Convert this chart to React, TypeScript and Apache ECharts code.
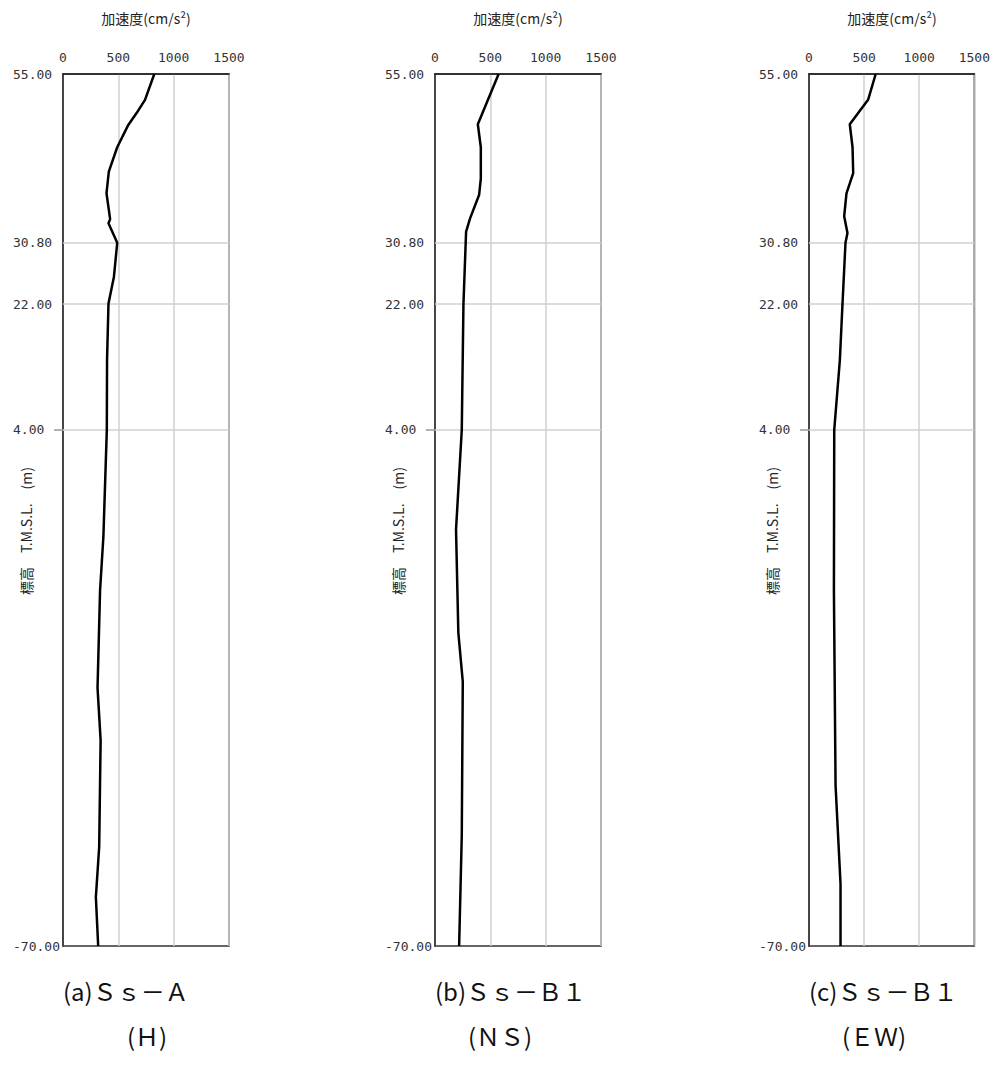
import React, { useEffect, useRef } from "react";
import * as echarts from "echarts";

// Tick / label values
const xMin = 0;
const xMax = 1500;
const xInterval = 500;
const yMin = -70;
const yMax = 55;
const yLabelValues = [55, 30.8, 22, 4, -70];
const yGridValues = [30.8, 22, 4];
const yTickValues = [4];

// (a) Ss-A (H)
const elevA = [55, 51.3, 49.4, 47.7, 44.5, 41, 37.9, 34.2, 33.6, 30.8, 25.9, 22.1, 14, 4, -11.3, -19, -33, -40.5, -55.8, -63, -70];
const accA = [825, 741, 665, 590, 490, 414, 393, 426, 411, 490, 460, 411, 398, 396, 365, 335, 312, 340, 327, 297, 318];

// (b) Ss-B1 (NS)
const elevB = [55, 47.8, 44.5, 40, 37.7, 34.3, 32.4, 22, 4, -10.3, -25.1, -32.1, -54.1, -70];
const accB = [575, 387, 414, 414, 399, 317, 281, 257, 242, 190, 211, 251, 242, 218];

// (c) Ss-B1 (EW)
const elevC = [55, 51.3, 47.8, 44.5, 40.8, 37.9, 34.6, 32.2, 30.8, 22.1, 14, 4, -19, -47, -61.1, -70];
const accC = [605, 536, 370, 395, 401, 340, 319, 349, 331, 304, 280, 229, 226, 241, 286, 286];

const xTitle = "加速度(cm/s²)";
const yTitle = "標高　T.M.S.L.　(m)";
const captions1 = ["(a)Ｓｓ－Ａ", "(b)Ｓｓ－Ｂ１", "(c)Ｓｓ－Ｂ１"];
const captions2 = ["(Ｈ)", "(ＮＳ)", "(ＥＷ)"];

const panels = [
  { elev: elevA, acc: accA },
  { elev: elevB, acc: accB },
  { elev: elevC, acc: accC },
];

const gridLefts = [63, 435, 809];
const gridWidth = 166;
const gridTop = 74;
const gridHeight = 872;
const line2Centers = [147, 500, 874];

const monoFont = "'DejaVu Sans Mono', monospace";
const cjkFont = "'Noto Sans CJK JP', sans-serif";

export default function App() {
  const ref = useRef<HTMLDivElement>(null);

  useEffect(() => {
    if (!ref.current) return;
    const chart = echarts.init(ref.current, undefined, { renderer: "svg" });

    const grids: any[] = [];
    const xAxes: any[] = [];
    const yAxes: any[] = [];
    const series: any[] = [];
    const graphics: any[] = [];

    panels.forEach((p, i) => {
      const left = gridLefts[i];
      const data = p.elev.map((e, k) => [p.acc[k], e]);
      grids.push({
        left,
        top: gridTop,
        width: gridWidth,
        height: gridHeight,
        show: true,
        borderColor: "#333",
        borderWidth: 1.5,
        backgroundColor: "transparent",
      });
      xAxes.push({
        gridIndex: i,
        type: "value",
        position: "top",
        min: xMin,
        max: xMax,
        interval: xInterval,
        axisLine: { show: true, onZero: false, lineStyle: { color: "#222", width: 1.5 } },
        axisTick: { show: false },
        axisLabel: {
          margin: 10,
          fontSize: 13,
          fontFamily: monoFont,
          color: "#333",
          formatter: (v: number) => String(v),
        },
        splitLine: { show: true, lineStyle: { color: "#d0d0d0", width: 1.5 } },
      });
      yAxes.push({
        gridIndex: i,
        type: "value",
        min: yMin,
        max: yMax,
        axisLine: { show: true, onZero: false, lineStyle: { color: "#222", width: 1.5 } },
        axisTick: {
          show: true,
          customValues: yTickValues,
          length: 9,
          lineStyle: { color: "#999", width: 1.5 },
        },
        axisLabel: {
          customValues: yLabelValues,
          formatter: (v: number) => v.toFixed(2),
          align: "left",
          margin: 50,
          fontSize: 13,
          fontFamily: monoFont,
          color: "#333",
        },
        splitLine: { show: false },
      });
      series.push({
        type: "line",
        xAxisIndex: i,
        yAxisIndex: i,
        data,
        symbol: "none",
        silent: true,
        z: 1,
        lineStyle: { opacity: 0 },
        markLine: {
          silent: true,
          symbol: ["none", "none"],
          label: { show: false },
          lineStyle: { color: "#d0d0d0", width: 1.5, type: "solid" },
          data: yGridValues.map((v) => ({ yAxis: v })),
        },
      });
      series.push({
        type: "line",
        xAxisIndex: i,
        yAxisIndex: i,
        data,
        symbol: "none",
        showSymbol: false,
        silent: true,
        z: 5,
        lineStyle: { color: "#000", width: 2.5 },
      });

      graphics.push({
        type: "text",
        x: left + gridWidth / 2,
        y: 18,
        style: {
          text: xTitle,
          font: `14px ${cjkFont}`,
          fill: "#222",
          textAlign: "center",
          textVerticalAlign: "middle",
        },
      });
      graphics.push({
        type: "text",
        x: left - 37,
        y: 531,
        rotation: Math.PI / 2,
        style: {
          text: yTitle,
          font: `14px ${cjkFont}`,
          fill: "#222",
          textAlign: "center",
          textVerticalAlign: "middle",
        },
      });
      graphics.push({
        type: "text",
        x: left,
        y: 990,
        style: {
          text: captions1[i],
          font: `24px ${cjkFont}`,
          fill: "#111",
          textAlign: "left",
          textVerticalAlign: "middle",
        },
      });
      graphics.push({
        type: "text",
        x: line2Centers[i],
        y: 1035,
        style: {
          text: captions2[i],
          font: `24px ${cjkFont}`,
          fill: "#111",
          textAlign: "center",
          textVerticalAlign: "middle",
        },
      });
    });

    chart.setOption({
      animation: false,
      backgroundColor: "#fff",
      grid: grids,
      xAxis: xAxes,
      yAxis: yAxes,
      series,
      graphic: graphics,
    });

    return () => {
      chart.dispose();
    };
  }, []);

  return (
    <div
      ref={ref}
      style={{ position: "fixed", left: 0, top: 0, width: 993, height: 1081 }}
    />
  );
}
